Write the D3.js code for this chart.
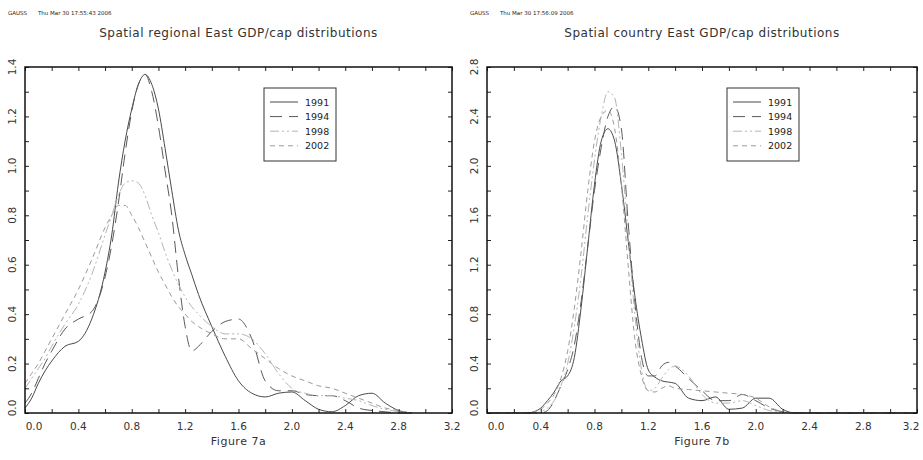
<!DOCTYPE html>
<html>
<head>
    <title></title>
    <script src="https://d3js.org/d3.v7.min.js"></script>
    <style>
        body { margin: 0; background: #fff; }
        text { font-family: "DejaVu Sans", sans-serif; }
    </style>
</head>
<body>
    <svg id="chart" width="923" height="460"></svg>

    <script>
    // ---- data ----
    let years = ["1991", "1994", "1998", "2002"];

    // regional panel (Figure 7a)
    let regX = [0, 0.05, 0.1, 0.15, 0.2, 0.3, 0.4, 0.5, 0.6, 0.65, 0.7, 0.75, 0.8, 0.85, 0.9, 0.95,
                1.0, 1.05, 1.1, 1.15, 1.2, 1.25, 1.3, 1.4, 1.5, 1.6, 1.7, 1.8, 1.9, 2.0,
                2.1, 2.2, 2.3, 2.4, 2.5, 2.6, 2.7, 2.8, 2.9];
    let reg1991 = [0.02, 0.06, 0.12, 0.17, 0.21, 0.27, 0.29, 0.38, 0.57, 0.72, 0.93, 1.1, 1.23, 1.33, 1.37, 1.33,
                   1.23, 1.07, 0.9, 0.74, 0.64, 0.56, 0.48, 0.35, 0.23, 0.13, 0.08, 0.065, 0.08, 0.085,
                   0.05, 0.015, 0.005, 0.03, 0.07, 0.08, 0.04, 0.01, 0];
    let reg1994 = [0.04, 0.08, 0.14, 0.2, 0.25, 0.34, 0.38, 0.41, 0.55, 0.68, 0.85, 1.05, 1.22, 1.33, 1.37, 1.3,
                   1.16, 0.98, 0.8, 0.55, 0.35, 0.25, 0.27, 0.33, 0.37, 0.38, 0.3, 0.13, 0.09, 0.09,
                   0.075, 0.07, 0.07, 0.05, 0.02, 0.01, 0.005, 0, 0];
    let reg1998 = [0.1, 0.14, 0.18, 0.22, 0.27, 0.36, 0.44, 0.56, 0.72, 0.8, 0.88, 0.93, 0.94, 0.93, 0.88, 0.8,
                   0.73, 0.65, 0.58, 0.52, 0.47, 0.43, 0.4, 0.35, 0.32, 0.32, 0.3, 0.24, 0.16, 0.1,
                   0.08, 0.07, 0.07, 0.06, 0.05, 0.03, 0.015, 0.005, 0];
    let reg2002 = [0.12, 0.16, 0.2, 0.25, 0.3, 0.4, 0.5, 0.62, 0.75, 0.8, 0.84, 0.84, 0.8, 0.75, 0.69, 0.63,
                   0.57, 0.52, 0.47, 0.43, 0.4, 0.37, 0.35, 0.32, 0.3, 0.3, 0.26, 0.22, 0.18, 0.15,
                   0.13, 0.11, 0.1, 0.08, 0.06, 0.04, 0.02, 0.01, 0];

    // country panel (Figure 7b)
    let ctyX = [0, 0.3, 0.35, 0.4, 0.45, 0.5, 0.55, 0.6, 0.65, 0.7, 0.75, 0.8, 0.85, 0.9, 0.95,
                1.0, 1.05, 1.1, 1.15, 1.2, 1.25, 1.3, 1.35, 1.4, 1.5, 1.6, 1.7, 1.8, 1.9, 2.0,
                2.1, 2.2, 2.3, 3.2];
    let cty1991 = [0, 0, 0.01, 0.04, 0.1, 0.17, 0.26, 0.3, 0.45, 0.85, 1.35, 1.85, 2.2, 2.3, 2.2,
                   1.85, 1.4, 0.95, 0.6, 0.35, 0.29, 0.26, 0.25, 0.24, 0.12, 0.1, 0.13, 0.03, 0.04, 0.12,
                   0.12, 0.03, 0, 0];
    let cty1994 = [0, 0, 0, 0, 0.02, 0.1, 0.22, 0.35, 0.55, 0.9, 1.35, 1.8, 2.15, 2.4, 2.48,
                   2.3, 1.55, 0.9, 0.45, 0.3, 0.3, 0.38, 0.41, 0.38, 0.28, 0.18, 0.1, 0.1, 0.15, 0.1,
                   0.04, 0.01, 0, 0];
    let cty1998 = [0, 0, 0, 0.01, 0.04, 0.1, 0.22, 0.4, 0.7, 1.1, 1.6, 2.05, 2.4, 2.6, 2.55,
                   2.1, 1.45, 0.8, 0.35, 0.18, 0.2, 0.28, 0.35, 0.38, 0.3, 0.15, 0.08, 0.08, 0.1, 0.06,
                   0.02, 0.005, 0, 0];
    let cty2002 = [0, 0, 0.01, 0.03, 0.08, 0.15, 0.28, 0.5, 0.85, 1.3, 1.8, 2.2, 2.4, 2.45, 2.3,
                   1.85, 1.2, 0.6, 0.3, 0.18, 0.17, 0.2, 0.22, 0.2, 0.19, 0.18, 0.17, 0.16, 0.15, 0.12,
                   0.05, 0.01, 0, 0];

    let xTicks = [0, 0.4, 0.8, 1.2, 1.6, 2.0, 2.4, 2.8, 3.2];
    let regYTicks = [0, 0.2, 0.4, 0.6, 0.8, 1.0, 1.2, 1.4];
    let ctyYTicks = [0, 0.4, 0.8, 1.2, 1.6, 2.0, 2.4, 2.8];

    // line looks per year: solid, long dash, dash-dot, short dash
    let styles = [
        { color: "#4a4a4a", dash: null },
        { color: "#5a5a5a", dash: "12,7" },
        { color: "#b4b4b4", dash: "9,3,2,3,2,3" },
        { color: "#9a9a9a", dash: "5,4" }
    ];

    let svg = d3.select("#chart");

    function drawPanel(p) {
        let g = svg.append("g");
        let sx = d3.scaleLinear().domain([0, 3.2]).range([p.left, p.right]);
        let sy = d3.scaleLinear().domain([0, p.ymax]).range([413, 67]);

        // header stamp
        g.append("text").attr("x", p.left - 17).attr("y", 15)
            .attr("font-size", 5.5).attr("fill", "#222").text("GAUSS");
        g.append("text").attr("x", p.left + 13).attr("y", 15)
            .attr("font-size", 5.5).attr("fill", "#222").text(p.stamp);

        // title
        g.append("text").attr("x", (p.left + p.right) / 2).attr("y", 37)
            .attr("text-anchor", "middle").attr("font-size", 12)
            .attr("letter-spacing", 0.5).attr("fill", "#333")
            .text(p.title);

        // curves
        let line = d3.line().x(d => sx(d[0])).y(d => sy(d[1])).curve(d3.curveMonotoneX);
        p.series.forEach((s, i) => {
            g.append("path")
                .datum(p.xs.map((x, j) => [x, s[j]]))
                .attr("d", line)
                .attr("fill", "none")
                .attr("stroke", styles[i].color)
                .attr("stroke-width", 1)
                .attr("stroke-dasharray", styles[i].dash);
        });

        // axes with inward ticks on all sides
        let minorX = d3.range(0, 3.21, 0.2);
        let minorY = d3.range(0, p.ymax + 0.001, p.ystep);
        g.append("g").attr("transform", "translate(0,413)")
            .call(d3.axisTop(sx).tickValues(minorX).tickSize(4).tickFormat(""));
        g.append("g").attr("transform", "translate(0,67)")
            .call(d3.axisBottom(sx).tickValues(minorX).tickSize(4).tickFormat(""));
        g.append("g").attr("transform", "translate(" + p.left + ",0)")
            .call(d3.axisRight(sy).tickValues(minorY).tickSize(4).tickFormat(""));
        g.append("g").attr("transform", "translate(" + p.right + ",0)")
            .call(d3.axisLeft(sy).tickValues(minorY).tickSize(4).tickFormat(""));
        g.selectAll(".domain").remove();
        g.selectAll(".tick line").attr("stroke", "#222");

        // frame
        g.append("rect").attr("x", p.left).attr("y", 67)
            .attr("width", p.right - p.left).attr("height", 413 - 67)
            .attr("fill", "none").attr("stroke", "#111").attr("stroke-width", 1.5);

        // tick labels
        let last = xTicks.length - 1;
        g.selectAll(".xl").data(xTicks).join("text")
            .attr("x", (d, i) => sx(d) + (i === 0 ? 9 : 0) - (i === last ? p.lastShift : 0))
            .attr("y", 430)
            .attr("text-anchor", "middle").attr("font-size", 10.5).attr("fill", "#333")
            .text(d => d.toFixed(1));
        g.selectAll(".yl").data(p.yTicks).join("text")
            .attr("transform", (d, i) => "translate(" + (p.left - 9) + "," + (sy(d) - (i === 0 ? 5 : 0)) + ") rotate(-90)")
            .attr("text-anchor", "middle").attr("font-size", 10.5).attr("fill", "#333")
            .text(d => d.toFixed(1));

        // x label
        g.append("text").attr("x", (p.left + p.right) / 2).attr("y", 445)
            .attr("text-anchor", "middle").attr("font-size", 11).attr("letter-spacing", 0.5)
            .attr("fill", "#333").text(p.xlabel);

        // legend
        let lx = p.legendX, ly = 88;
        g.append("rect").attr("x", lx).attr("y", ly).attr("width", 72).attr("height", 73)
            .attr("fill", "#fff").attr("stroke", "#333").attr("stroke-width", 1);
        years.forEach((yr, i) => {
            let yy = ly + 14 + i * 14.6;
            g.append("line").attr("x1", lx + 6).attr("x2", lx + 34).attr("y1", yy).attr("y2", yy)
                .attr("stroke", styles[i].color).attr("stroke-dasharray", styles[i].dash);
            g.append("text").attr("x", lx + 41).attr("y", yy + 3.5)
                .attr("font-family", "Liberation Sans, sans-serif")
                .attr("font-size", 9.5).attr("fill", "#222").text(yr);
        });
    }

    drawPanel({
        left: 25, right: 452, ymax: 1.4, ystep: 0.1, yTicks: regYTicks,
        stamp: "Thu Mar 30 17:55:43 2006",
        title: "Spatial regional East GDP/cap distributions",
        xlabel: "Figure 7a", legendX: 264, lastShift: 0,
        xs: regX, series: [reg1991, reg1994, reg1998, reg2002]
    });
    drawPanel({
        left: 487, right: 917, ymax: 2.8, ystep: 0.2, yTicks: ctyYTicks,
        stamp: "Thu Mar 30 17:56:09 2006",
        title: "Spatial country East GDP/cap distributions",
        xlabel: "Figure 7b", legendX: 727, lastShift: 6,
        xs: ctyX, series: [cty1991, cty1994, cty1998, cty2002]
    });
    </script>
</body>
</html>
